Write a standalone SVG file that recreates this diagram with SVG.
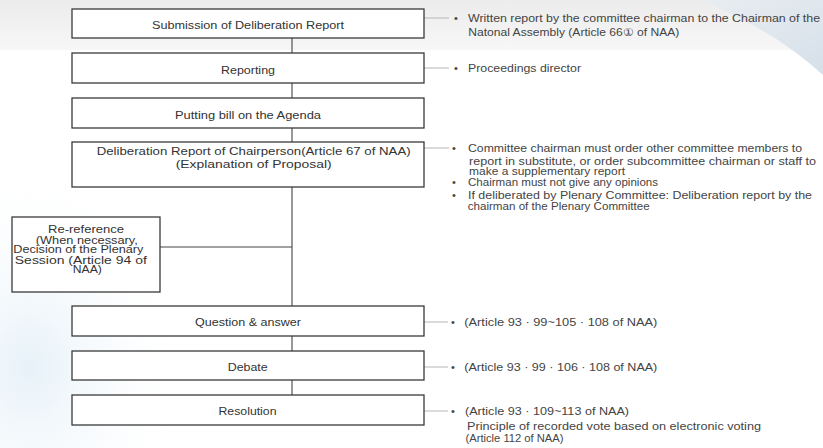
<svg xmlns="http://www.w3.org/2000/svg" width="823" height="448" viewBox="0 0 823 448">
  <style>
    .box { fill: #ffffff; stroke: #3a3a3a; stroke-width: 1.3; }
    .label { font-family: "Liberation Sans", Arial, sans-serif; font-size: 11.5px; fill: #333333; text-anchor: middle; }
    .small { font-size: 10px; }
    .note { font-family: "Liberation Sans", Arial, sans-serif; font-size: 11px; fill: #444444; }
    .flow { stroke: #444444; stroke-width: 1.1; fill: none; }
    .lead { stroke: #b5b5b5; stroke-width: 1; fill: none; }
  </style>
  <defs>
    <linearGradient id="topBand" x1="0" y1="0" x2="0" y2="1">
      <stop offset="0" stop-color="#ececec"/>
      <stop offset="1" stop-color="#f7f7f7"/>
    </linearGradient>
    <linearGradient id="swoosh" x1="0" y1="0" x2="1" y2="1">
      <stop offset="0" stop-color="#e9edf1"/>
      <stop offset="1" stop-color="#d6e0ea"/>
    </linearGradient>
    <radialGradient id="haze" cx="0.15" cy="0.7" r="0.8">
      <stop offset="0" stop-color="#e6f1f8"/>
      <stop offset="1" stop-color="#ffffff" stop-opacity="0"/>
    </radialGradient>
  </defs>

  <!-- page background -->
  <rect x="0" y="0" width="823" height="448" fill="#ffffff"/>
  <rect x="0" y="0" width="823" height="50" fill="url(#topBand)"/>
  <path d="M700 0 L823 0 L823 75 C790 45 750 20 700 0 Z" fill="url(#swoosh)"/>
  <rect x="0" y="180" width="200" height="268" fill="url(#haze)"/>

  <!-- connectors -->
  <g id="connectors">
    <path class="flow" d="M292 38 V53 M292 83 V98 M292 128 V142 M292 187 V306 M160 247 H292 M292 336 V351 M292 380 V395"/>
    <path class="lead" d="M424 18 H449 M424 68 H449 M424 148 H449 M424 322 H448 M424 367 H448 M424 411 H448"/>
  </g>

  <g id="submission">
    <rect class="box" x="72" y="9" width="352" height="29"/>
    <text class="label" x="248" y="28.5" textLength="192" lengthAdjust="spacingAndGlyphs">Submission of Deliberation Report</text>
  </g>
  <g id="reporting">
    <rect class="box" x="72" y="53" width="352" height="30"/>
    <text class="label" x="248" y="73.5" textLength="54" lengthAdjust="spacingAndGlyphs">Reporting</text>
  </g>
  <g id="agenda">
    <rect class="box" x="72" y="98" width="352" height="30"/>
    <text class="label" x="248" y="118.5" textLength="146" lengthAdjust="spacingAndGlyphs">Putting bill on the Agenda</text>
  </g>
  <g id="deliberation">
    <rect class="box" x="72" y="142" width="352" height="45"/>
    <text class="label" x="253.7" y="155" textLength="314" lengthAdjust="spacingAndGlyphs">Deliberation Report of Chairperson(Article 67 of NAA)</text>
    <text class="label" x="253.7" y="167.5" textLength="156" lengthAdjust="spacingAndGlyphs">(Explanation of Proposal)</text>
  </g>
  <g id="re-reference">
    <rect class="box" x="12" y="217" width="148" height="75"/>
    <text class="label small" x="86" y="233" textLength="76" lengthAdjust="spacingAndGlyphs">Re-reference</text>
    <text class="label small" x="86.8" y="243.5" textLength="102" lengthAdjust="spacingAndGlyphs">(When necessary,</text>
    <text class="label small" x="78.3" y="253" textLength="130" lengthAdjust="spacingAndGlyphs">Decision of the Plenary</text>
    <text class="label small" x="80.8" y="263.5" textLength="132" lengthAdjust="spacingAndGlyphs">Session (Article 94 of</text>
    <text class="label small" x="87.3" y="273" textLength="29" lengthAdjust="spacingAndGlyphs">NAA)</text>
  </g>
  <g id="question">
    <rect class="box" x="72" y="306" width="352" height="30"/>
    <text class="label" x="248" y="326" textLength="106" lengthAdjust="spacingAndGlyphs">Question &amp; answer</text>
  </g>
  <g id="debate">
    <rect class="box" x="72" y="351" width="352" height="29"/>
    <text class="label" x="247.7" y="370.5" textLength="40" lengthAdjust="spacingAndGlyphs">Debate</text>
  </g>
  <g id="resolution">
    <rect class="box" x="72" y="395" width="352" height="30"/>
    <text class="label" x="247.5" y="414.5" textLength="58" lengthAdjust="spacingAndGlyphs">Resolution</text>
  </g>

  <!-- side notes -->
  <g id="note-submission" class="note">
    <text x="454" y="22">•</text>
    <text x="468" y="22" textLength="352" lengthAdjust="spacingAndGlyphs">Written report by the committee chairman to the Chairman of the</text>
    <text x="468.3" y="35.5" textLength="211" lengthAdjust="spacingAndGlyphs">Natonal Assembly (Article 66① of NAA)</text>
  </g>
  <g id="note-reporting" class="note">
    <text x="454" y="72">•</text>
    <text x="468" y="72" textLength="113" lengthAdjust="spacingAndGlyphs">Proceedings director</text>
  </g>
  <g id="note-deliberation" class="note">
    <text x="452" y="152">•</text>
    <text x="468" y="152" textLength="334" lengthAdjust="spacingAndGlyphs">Committee chairman must order other committee members to</text>
    <text x="469" y="164.5" textLength="347" lengthAdjust="spacingAndGlyphs">report in substitute, or order subcommittee chairman or staff to</text>
    <text x="469" y="175" textLength="156" lengthAdjust="spacingAndGlyphs">make a supplementary report</text>
    <text x="452" y="186">•</text>
    <text x="468" y="186" textLength="190" lengthAdjust="spacingAndGlyphs">Chairman must not give any opinions</text>
    <text x="452" y="199">•</text>
    <text x="468" y="199" textLength="344" lengthAdjust="spacingAndGlyphs">If deliberated by Plenary Committee: Deliberation report by the</text>
    <text x="467.7" y="210" textLength="182" lengthAdjust="spacingAndGlyphs">chairman of the Plenary Committee</text>
  </g>
  <g id="note-question" class="note">
    <text x="451" y="326">•</text>
    <text x="464.3" y="326" textLength="193" lengthAdjust="spacingAndGlyphs">(Article 93 · 99~105 · 108 of NAA)</text>
  </g>
  <g id="note-debate" class="note">
    <text x="451" y="371">•</text>
    <text x="464.3" y="371" textLength="193" lengthAdjust="spacingAndGlyphs">(Article 93 · 99 · 106 · 108 of NAA)</text>
  </g>
  <g id="note-resolution" class="note">
    <text x="451" y="414.5">•</text>
    <text x="465" y="414.5" textLength="164" lengthAdjust="spacingAndGlyphs">(Article 93 · 109~113 of NAA)</text>
    <text x="467" y="430" textLength="294" lengthAdjust="spacingAndGlyphs">Principle of recorded vote based on electronic voting</text>
    <text x="465.5" y="441.5" textLength="98" lengthAdjust="spacingAndGlyphs">(Article 112 of NAA)</text>
  </g>
</svg>
